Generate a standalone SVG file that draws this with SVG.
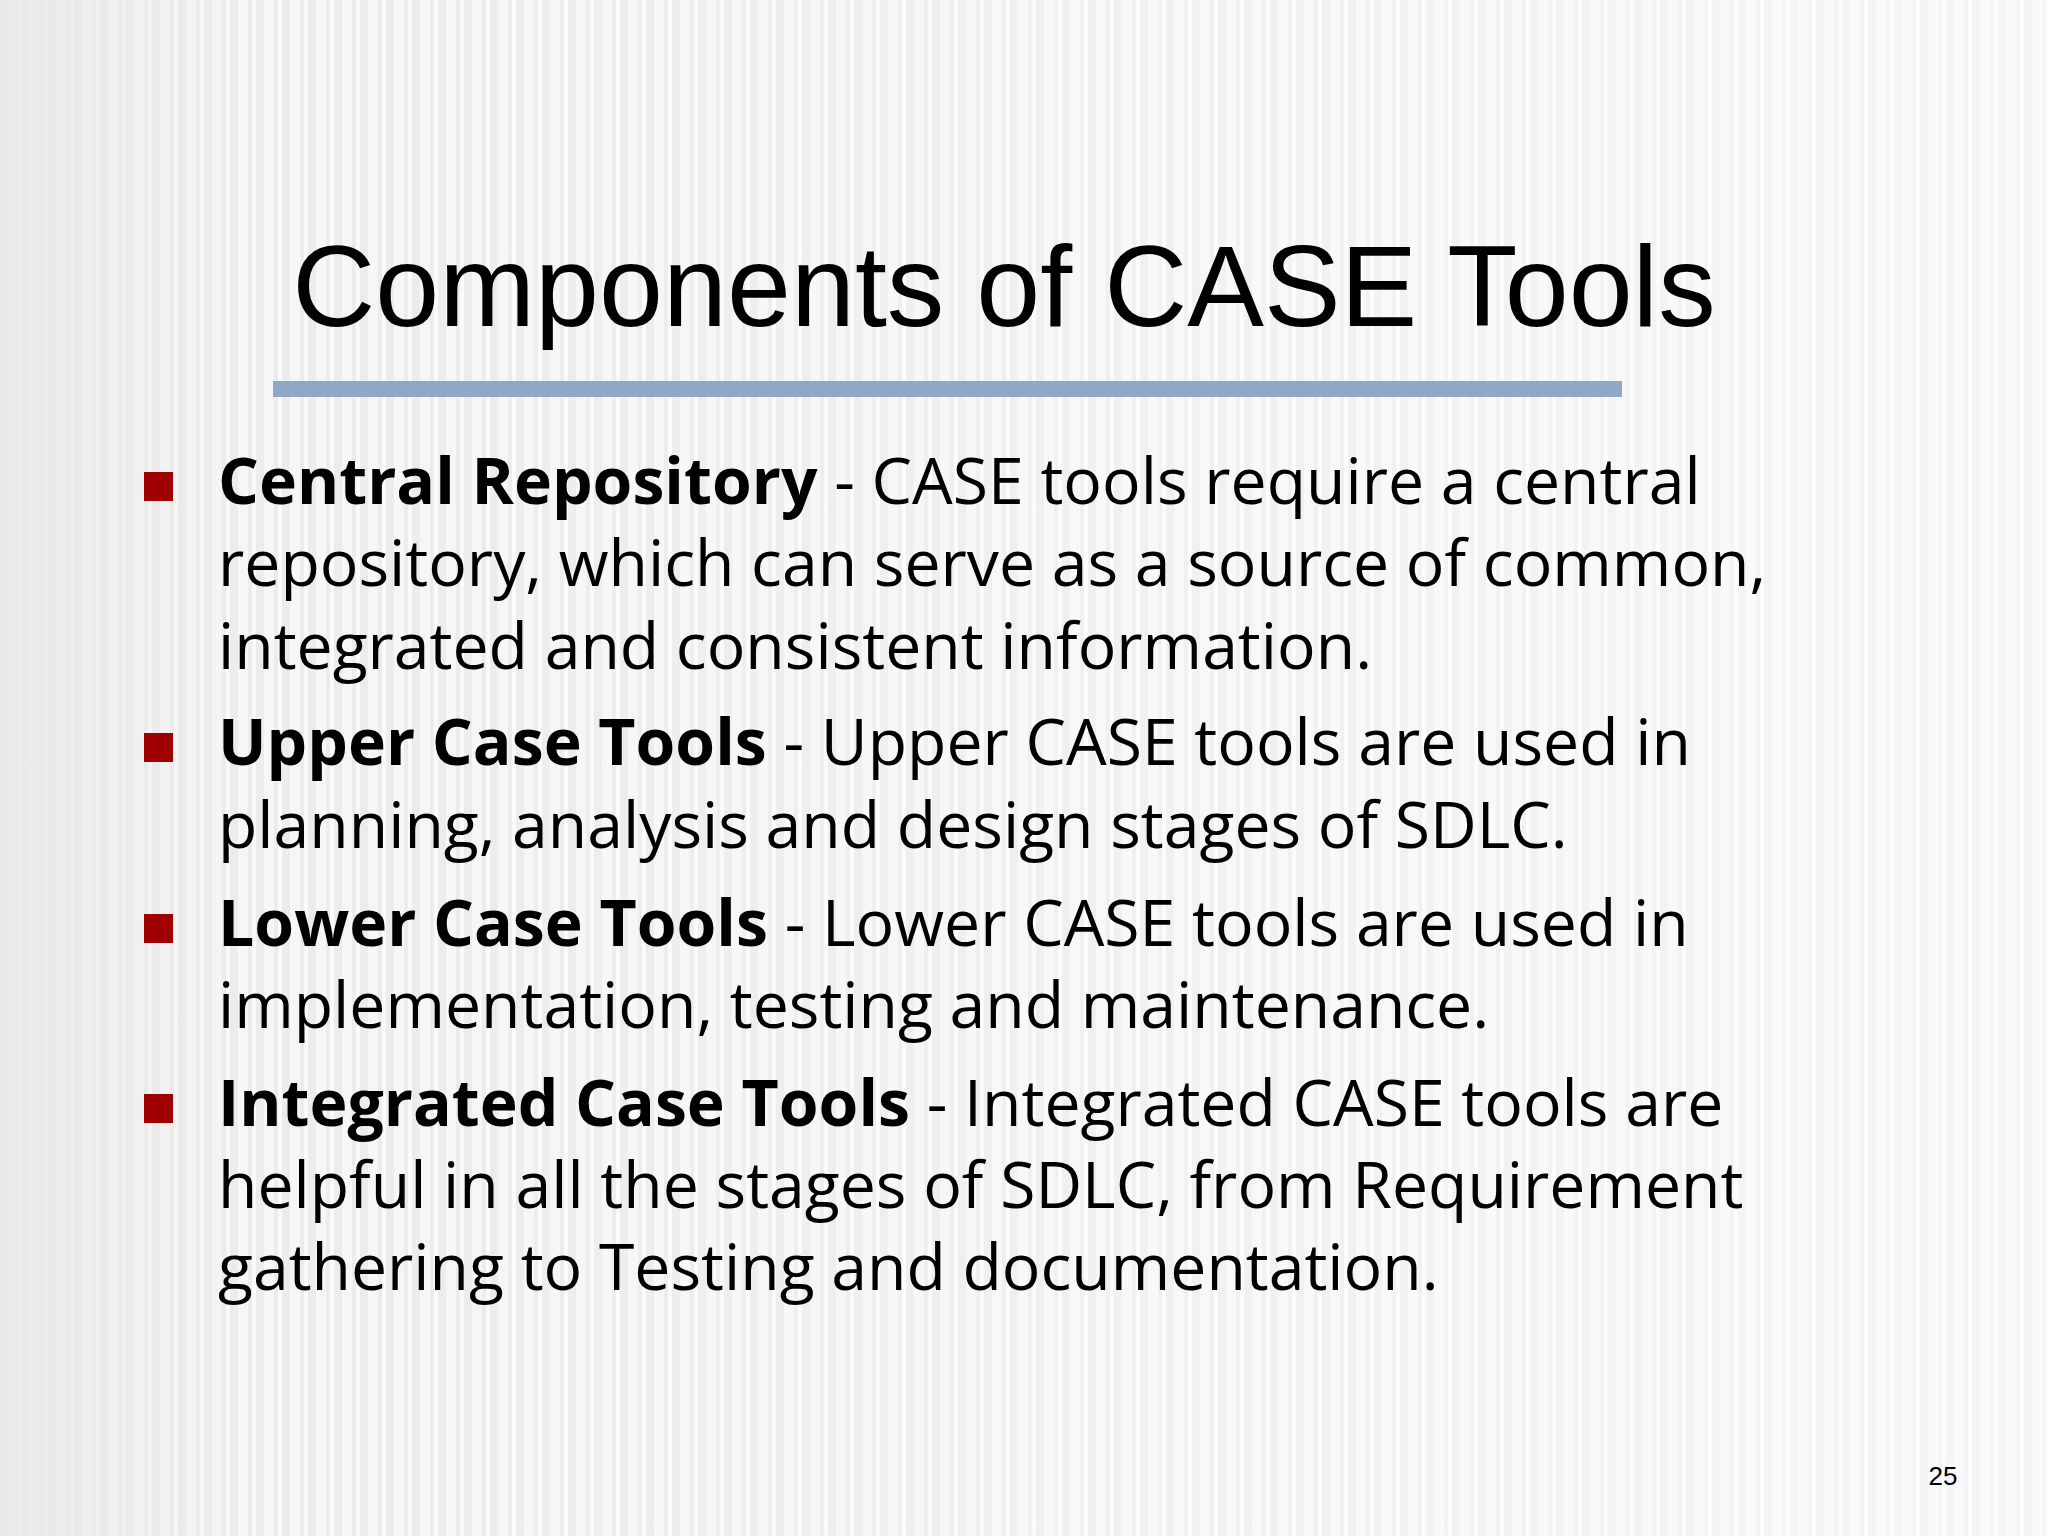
<svg xmlns="http://www.w3.org/2000/svg" width="2048" height="1536" viewBox="0 0 2048 1536">
<defs>
<pattern id="str" width="26" height="1536" patternUnits="userSpaceOnUse">
<rect width="26" height="1536" fill="#ececec"/>
<rect x="4" width="10" height="1536" fill="#f6f6f6"/>
<rect x="18" width="4" height="1536" fill="#fafafa"/>
</pattern>
<linearGradient id="fade" x1="0" x2="1" y1="0" y2="0">
<stop offset="0" stop-color="#e8e8e8" stop-opacity="0.9"/>
<stop offset="0.12" stop-color="#e8e8e8" stop-opacity="0"/>
<stop offset="0.2" stop-color="#ffffff" stop-opacity="0"/>
<stop offset="1" stop-color="#ffffff" stop-opacity="0.5"/>
</linearGradient>
</defs>
<style>
.b{font-family:"Open Sans","Noto Sans",sans-serif;font-size:64.3px;fill:#000}
.bold{font-weight:bold}
.sq{fill:#a00000}
</style>
<rect width="2048" height="1536" fill="url(#str)"/>
<rect width="2048" height="1536" fill="url(#fade)"/>
<text x="1004" y="326" text-anchor="middle" font-family="Liberation Sans, Arial, sans-serif" font-size="115" fill="#000">Components of CASE Tools</text>
<rect x="273" y="381" width="1349" height="16" fill="#8fa8c8"/>
<rect class="sq" x="144" y="472" width="29" height="29"/>
<rect class="sq" x="144" y="733" width="29" height="29"/>
<rect class="sq" x="144" y="914" width="29" height="29"/>
<rect class="sq" x="144" y="1094" width="29" height="29"/>
<text class="b" x="218" y="504"><tspan class="bold">Central Repository</tspan> - CASE tools require a central</text>
<text class="b" x="218" y="586">repository, which can serve as a source of common,</text>
<text class="b" x="218" y="669">integrated and consistent information.</text>
<text class="b" x="218" y="765"><tspan class="bold">Upper Case Tools</tspan> - Upper CASE tools are used in</text>
<text class="b" x="218" y="848">planning, analysis and design stages of SDLC.</text>
<text class="b" x="218" y="946"><tspan class="bold">Lower Case Tools</tspan> - Lower CASE tools are used in</text>
<text class="b" x="218" y="1028">implementation, testing and maintenance.</text>
<text class="b" x="218" y="1126"><tspan class="bold">Integrated Case Tools</tspan> - Integrated CASE tools are</text>
<text class="b" x="218" y="1208">helpful in all the stages of SDLC, from Requirement</text>
<text class="b" x="218" y="1290">gathering to Testing and documentation.</text>
<text x="1943" y="1485" text-anchor="middle" font-family="Liberation Sans, Arial, sans-serif" font-size="26" fill="#000">25</text>
</svg>
